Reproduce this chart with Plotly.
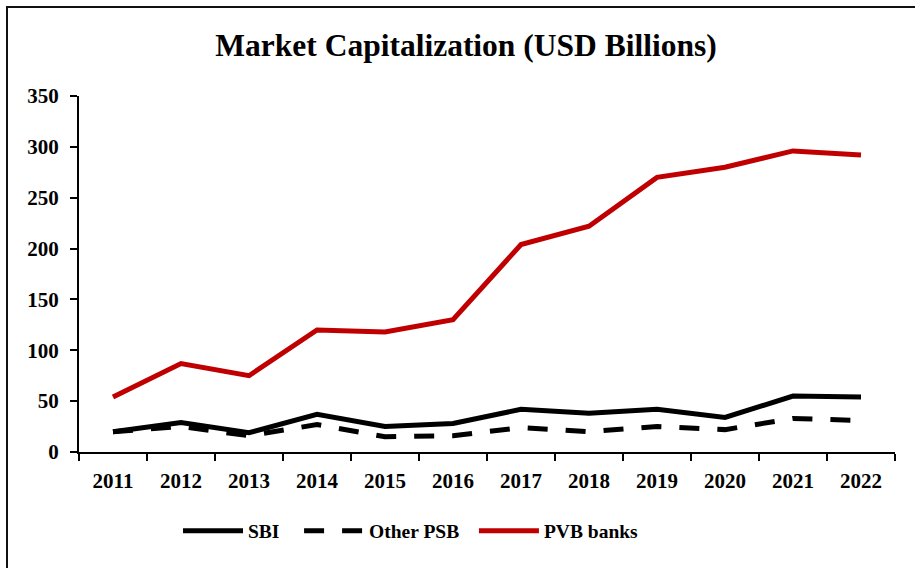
import plotly.graph_objects as go

years = ["2011", "2012", "2013", "2014", "2015", "2016", "2017", "2018", "2019", "2020", "2021", "2022"]
sbi = [20, 29, 19, 37, 25, 28, 42, 38, 42, 34, 55, 54]
other_psb = [20, 25, 16, 27, 15, 16, 24, 20, 25, 22, 33, 31]
pvb_banks = [54, 87, 75, 120, 118, 130, 204, 222, 270, 280, 296, 292]
series_names = ["SBI", "Other PSB", "PVB banks"]

FONT = "Liberation Serif"

fig = go.Figure()
fig.add_trace(go.Scatter(x=years, y=sbi, name=series_names[0] + "&nbsp;" * 3, mode="lines",
                         line=dict(color="#000000", width=5)))
fig.add_trace(go.Scatter(x=years, y=other_psb, name=series_names[1] + "&nbsp;" * 2, mode="lines",
                         line=dict(color="#000000", width=5, dash="20px,18px")))
fig.add_trace(go.Scatter(x=years, y=pvb_banks, name=series_names[2], mode="lines",
                         line=dict(color="#C00000", width=5)))

fig.update_layout(
    width=915, height=568,
    margin=dict(l=79, r=20, t=96, b=116),
    paper_bgcolor="white", plot_bgcolor="white",
    font=dict(family=FONT, color="#000000", size=17),
    title=dict(text="<b>Market Capitalization (USD Billions)</b>", x=466 / 915, xanchor="center",
               y=1 - 45 / 568, yanchor="middle", font=dict(size=31.5, family=FONT)),
    showlegend=True,
    legend=dict(orientation="h", x=(178 - 79) / 816, xanchor="left", y=-0.222, yanchor="middle",
                font=dict(size=19.5, family=FONT, weight="bold"), itemwidth=60),
    xaxis=dict(type="category", range=[-0.5, 11.5], showline=True, linecolor="#000000",
               linewidth=2, ticks="outside", ticklen=7, tickcolor="#000000", tickwidth=2,
               tickson="boundaries", showgrid=False, zeroline=False, ticklabelstandoff=9,
               tickfont=dict(size=21, family=FONT, weight="bold")),
    yaxis=dict(range=[0, 350], dtick=50, showline=True, linecolor="#000000", linewidth=2,
               ticks="outside", ticklen=7, tickcolor="#000000", tickwidth=2,
               showgrid=False, zeroline=False, ticklabelstandoff=7,
               tickfont=dict(size=21, family=FONT, weight="bold")),
)

fig.add_shape(type="rect", xref="paper", yref="paper",
              x0=(7 - 79) / 816, x1=(960 - 79) / 816,
              y0=-(600 - 452) / 356, y1=1 + (96 - 7) / 356,
              line=dict(color="#111111", width=2), fillcolor="rgba(0,0,0,0)", layer="below")

fig.write_html("out.html", config={"displayModeBar": False},
               post_script="document.body.style.margin='0';")
